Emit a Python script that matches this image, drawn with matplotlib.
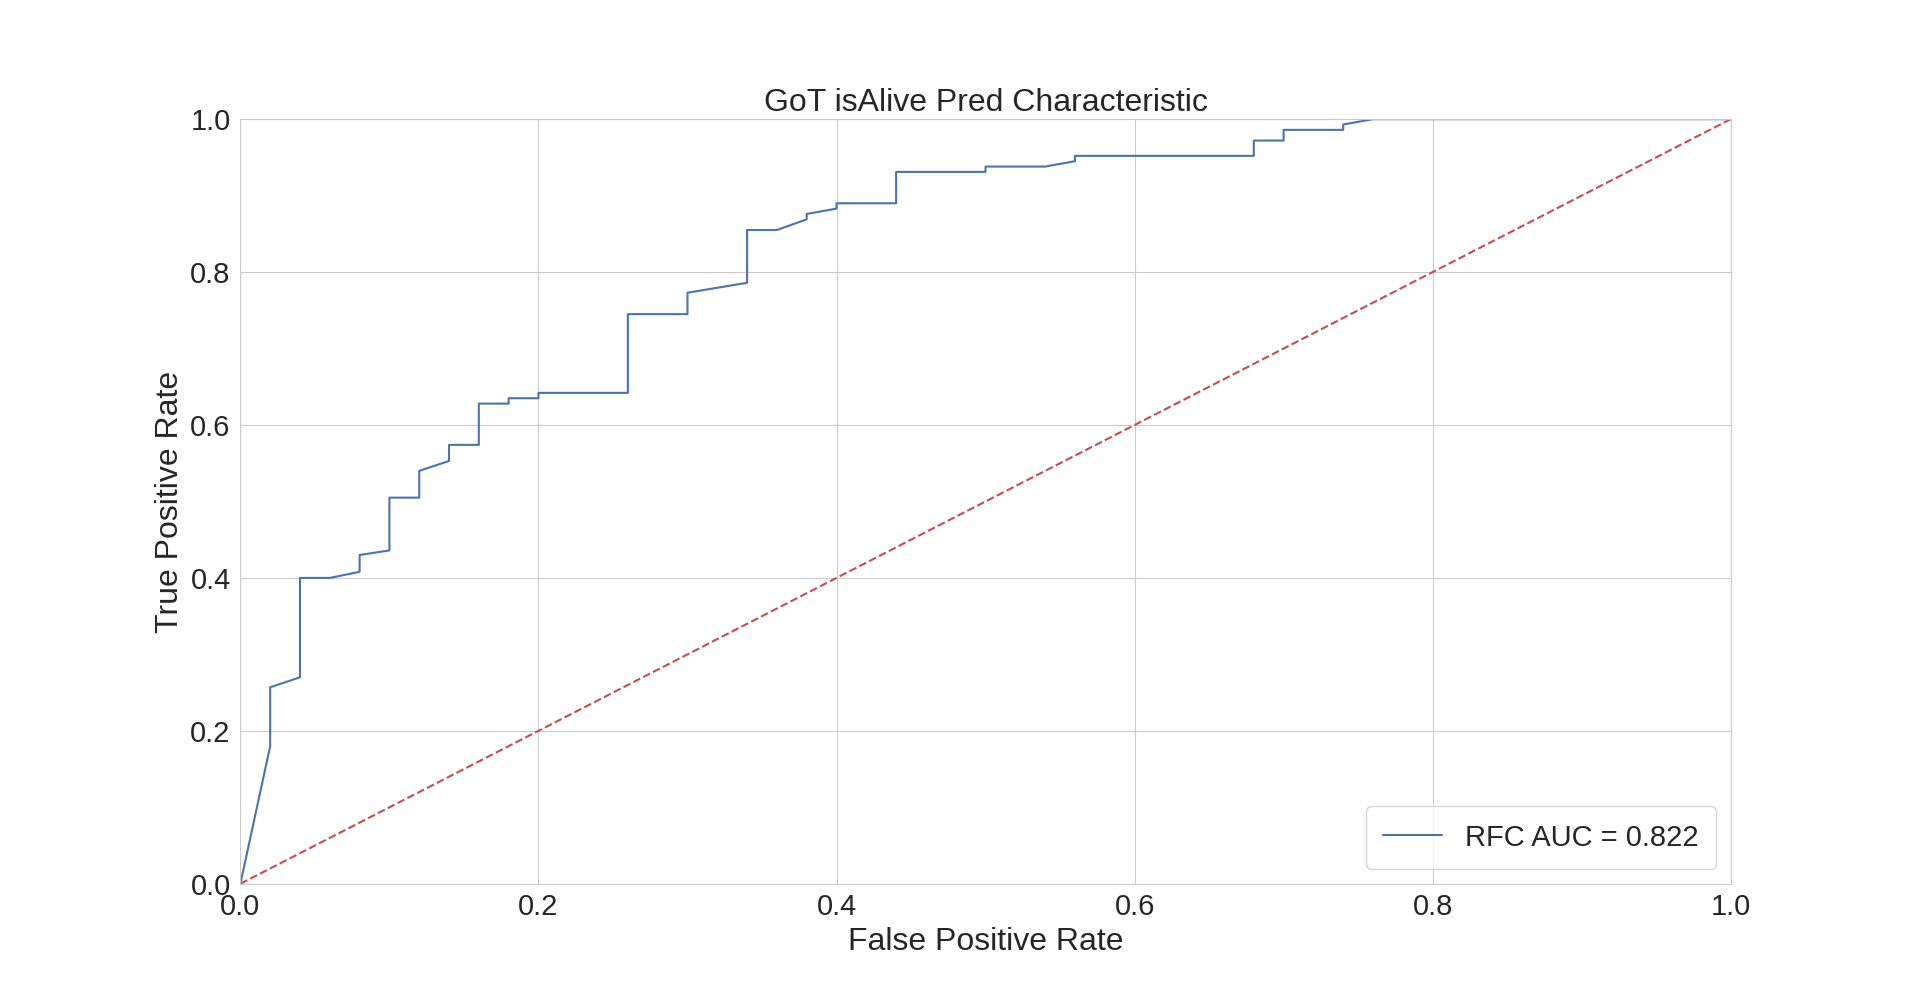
import matplotlib
matplotlib.use("Agg")
import matplotlib.pyplot as plt
import seaborn as sns

# ROC curve points
fpr = [0.0, 0.02, 0.02, 0.04, 0.04, 0.06, 0.08, 0.08, 0.10, 0.10, 0.12, 0.12, 0.14, 0.14,
       0.16, 0.16, 0.18, 0.18, 0.20, 0.20, 0.26, 0.26, 0.30, 0.30, 0.34, 0.34, 0.36, 0.38,
       0.38, 0.40, 0.40, 0.44, 0.44, 0.50, 0.50, 0.54, 0.56, 0.56, 0.68, 0.68, 0.70, 0.70,
       0.74, 0.74, 0.76, 1.0]
tpr = [0.0, 0.18, 0.257, 0.27, 0.40, 0.40, 0.408, 0.43, 0.436, 0.505, 0.505, 0.54, 0.553, 0.574,
       0.574, 0.628, 0.628, 0.635, 0.635, 0.642, 0.642, 0.745, 0.745, 0.773, 0.786, 0.855, 0.855, 0.869,
       0.876, 0.883, 0.89, 0.89, 0.931, 0.931, 0.938, 0.938, 0.945, 0.952, 0.952, 0.972, 0.972, 0.986,
       0.986, 0.993, 1.0, 1.0]
auc = 0.822

sns.set_style("whitegrid")
plt.rcParams['font.family'] = ['Arial', 'Liberation Sans', 'DejaVu Sans']

fig, ax = plt.subplots(figsize=(19.23, 9.93), dpi=100)
ax.plot(fpr, tpr, color='#4c72b0', lw=1.5, label='RFC AUC = %0.3f' % auc)
ax.plot([0, 1], [0, 1], '--', color='#c44e52', lw=1.5)
ax.set_xlim(0, 1)
ax.set_ylim(0, 1)
ax.set_title('GoT isAlive Pred Characteristic', fontsize=23)
ax.set_xlabel('False Positive Rate', fontsize=23)
ax.set_ylabel('True Positive Rate', fontsize=23)
ax.tick_params(labelsize=21)
ax.legend(loc='lower right', fontsize=21, frameon=True, borderpad=0.6)
fig.savefig('out.png', dpi=100)
